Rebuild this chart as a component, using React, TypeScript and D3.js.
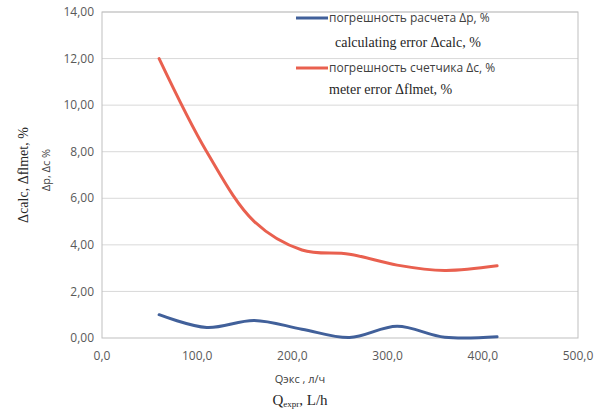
import React, { useEffect, useRef } from 'react';
import * as d3 from 'd3';

// flow, L/h
const flow = [60, 110, 160, 210, 260, 310, 360, 415];
// calculating error, %
const calcError = [1.0, 0.45, 0.75, 0.38, 0.02, 0.5, 0.03, 0.05];
// meter error, %
const meterError = [12.0, 8.0, 5.0, 3.78, 3.6, 3.13, 2.9, 3.1];

const yTicks = [0, 2, 4, 6, 8, 10, 12, 14];
const xTicks = [0, 100, 200, 300, 400, 500];

const W = 600;
const H = 409;
const left = 102;
const right = 578;
const top = 12;
const bottom = 338;

const blue = '#41609a';
const red = '#e9604f';
const sans = "'Open Sans', 'Noto Sans', sans-serif";
const serif = "'Liberation Serif', 'Times New Roman', 'DejaVu Serif', serif";

const App = () => {
    const ref = useRef<SVGSVGElement>(null);

    useEffect(() => {
        const svg = d3.select(ref.current);
        svg.selectAll('*').remove();

        const x = d3.scaleLinear().domain([0, 500]).range([left, right]);
        const y = d3.scaleLinear().domain([0, 14]).range([bottom, top]);

        // gridlines
        svg.append('g')
            .selectAll('line')
            .data(yTicks.slice(1))
            .enter()
            .append('line')
            .attr('x1', left)
            .attr('x2', right)
            .attr('y1', d => y(d))
            .attr('y2', d => y(d))
            .attr('stroke', '#d9d9d9')
            .attr('stroke-width', 1);

        // plot border
        svg.append('rect')
            .attr('x', left)
            .attr('y', top)
            .attr('width', right - left)
            .attr('height', bottom - top)
            .attr('fill', 'none')
            .attr('stroke', '#bfbfbf')
            .attr('stroke-width', 1);

        // y tick labels
        svg.append('g')
            .selectAll('text')
            .data(yTicks)
            .enter()
            .append('text')
            .attr('x', left - 8)
            .attr('y', d => y(d))
            .attr('dy', '0.35em')
            .attr('text-anchor', 'end')
            .attr('font-family', sans)
            .attr('font-size', 12)
            .attr('fill', '#595959')
            .text(d => d3.format('.2f')(d).replace('.', ','));

        // x tick labels
        svg.append('g')
            .selectAll('text')
            .data(xTicks)
            .enter()
            .append('text')
            .attr('x', d => x(d))
            .attr('y', bottom + 22)
            .attr('text-anchor', 'middle')
            .attr('font-family', sans)
            .attr('font-size', 12)
            .attr('fill', '#595959')
            .text(d => d3.format('.1f')(d).replace('.', ','));

        const line = (vals: number[]) => d3.line<number>()
            .x((d, i) => x(flow[i]))
            .y(d => y(d))
            .curve(d3.curveCatmullRom.alpha(0.5))(vals);

        svg.append('path')
            .attr('d', line(meterError))
            .attr('fill', 'none')
            .attr('stroke', red)
            .attr('stroke-width', 3)
            .attr('stroke-linecap', 'round');

        svg.append('path')
            .attr('d', line(calcError))
            .attr('fill', 'none')
            .attr('stroke', blue)
            .attr('stroke-width', 3)
            .attr('stroke-linecap', 'round');

        // legend
        const legend = svg.append('g');
        const entries = [
            { color: blue, ru: 'погрешность расчета Δp, %', en: 'calculating error Δcalc, %', y: 18, yEn: 42, xEn: 335 },
            { color: red, ru: 'погрешность счетчика Δc, %', en: 'meter error Δflmet, %', y: 68, yEn: 89, xEn: 329 },
        ];
        entries.forEach(e => {
            legend.append('line')
                .attr('x1', 296).attr('x2', 328)
                .attr('y1', e.y).attr('y2', e.y)
                .attr('stroke', e.color)
                .attr('stroke-width', 3);
            legend.append('text')
                .attr('x', 329).attr('y', e.y)
                .attr('dy', '0.35em')
                .attr('font-family', sans)
                .attr('font-size', 12)
                .attr('fill', '#404040')
                .text(e.ru);
            legend.append('text')
                .attr('x', e.xEn).attr('y', e.yEn)
                .attr('dy', '0.35em')
                .attr('font-family', serif)
                .attr('font-size', 14)
                .attr('fill', '#262626')
                .text(e.en);
        });

        // y axis titles
        svg.append('text')
            .attr('transform', 'translate(23,' + 175 + ') rotate(-90)')
            .attr('text-anchor', 'middle')
            .attr('dy', '0.35em')
            .attr('font-family', serif)
            .attr('font-size', 14)
            .attr('fill', '#262626')
            .text('Δcalc, Δflmet, %');

        svg.append('text')
            .attr('transform', 'translate(46,' + 170 + ') rotate(-90)')
            .attr('text-anchor', 'middle')
            .attr('dy', '0.35em')
            .attr('font-family', sans)
            .attr('font-size', 11)
            .attr('fill', '#404040')
            .text('Δp, Δc %');

        // x axis titles
        svg.append('text')
            .attr('x', 300).attr('y', 379)
            .attr('dy', '0.35em')
            .attr('text-anchor', 'middle')
            .attr('font-family', sans)
            .attr('font-size', 11)
            .attr('fill', '#404040')
            .text('Qэкс , л/ч');

        const q = svg.append('text')
            .attr('x', 300).attr('y', 400)
            .attr('dy', '0.35em')
            .attr('text-anchor', 'middle')
            .attr('font-family', serif)
            .attr('font-size', 15)
            .attr('fill', '#262626');
        q.append('tspan').text('Q');
        q.append('tspan').attr('font-size', 9).attr('dy', 2).text('expr');
        q.append('tspan').attr('dy', -2).text(', L/h');
    }, []);

    return (
        <svg ref={ref} width={W} height={H} style={{ position: 'absolute', left: 0, top: 0, background: '#fff' }} />
    );
};

export default App;
